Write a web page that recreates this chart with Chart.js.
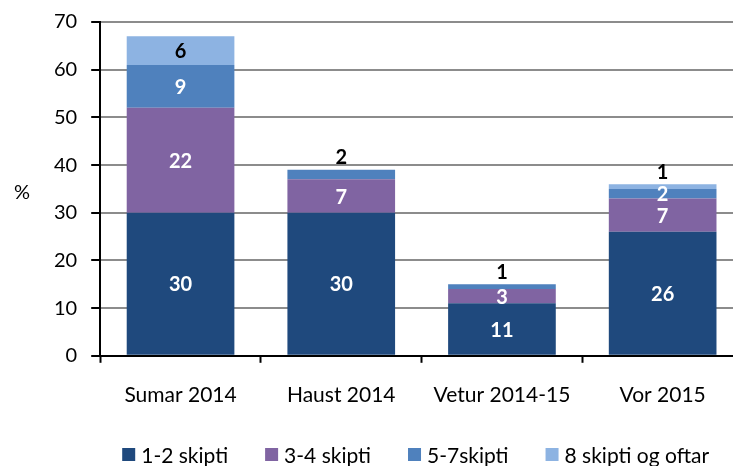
<!DOCTYPE html>
<html>
<head>
<meta charset="utf-8">
<script src="https://cdn.jsdelivr.net/npm/chart.js@4/dist/chart.umd.min.js"></script>
<style>
  html, body { margin: 0; padding: 0; background: #fff; overflow: hidden; }
  #wrap { width: 746px; height: 466px; }
</style>
</head>
<body>
<div id="wrap"><canvas id="chart" width="746" height="466"></canvas></div>
<script>
const seasons = ['Sumar 2014', 'Haust 2014', 'Vetur 2014-15', 'Vor 2015'];
const series_names = ['1-2 skipti', '3-4 skipti', '5-7skipti', '8 skipti og oftar'];
const trips_1_2 = [30, 30, 11, 26];
const trips_3_4 = [22, 7, 3, 7];
const trips_5_7 = [9, 2, 1, 2];
const trips_8_plus = [6, 0, 0, 1];
const y_ticks = [0, 10, 20, 30, 40, 50, 60, 70];

const colors = ['#1F497D', '#8064A2', '#4F81BD', '#8DB3E2'];
const FONT = 'Lato, "Open Sans", sans-serif';

Chart.defaults.font.family = FONT;
Chart.defaults.font.size = 20;
Chart.defaults.color = '#000';

const all_series = [trips_1_2, trips_3_4, trips_5_7, trips_8_plus];

// value labels inside the segments, small top ones go above the bar
const barLabels = {
  id: 'barLabels',
  afterDatasetsDraw(chart) {
    const ctx = chart.ctx;
    ctx.save();
    ctx.font = 'bold 20px ' + FONT;
    ctx.textAlign = 'center';
    chart.data.datasets.forEach((ds, i) => {
      const meta = chart.getDatasetMeta(i);
      meta.data.forEach((bar, j) => {
        const v = ds.data[j];
        if (!v) return;
        let isTop = true;
        for (let k = i + 1; k < all_series.length; k++) {
          if (all_series[k][j] > 0) isTop = false;
        }
        const above = isTop && v <= 2;
        ctx.fillStyle = (above || i === 3) ? '#000' : '#fff';
        if (above) {
          ctx.textBaseline = 'bottom';
          ctx.fillText(v, bar.x, bar.y - 2);
        } else {
          ctx.textBaseline = 'middle';
          ctx.fillText(v, bar.x, (bar.y + bar.base) / 2 + 1);
        }
      });
    });
    ctx.restore();
  }
};

// "%" axis title (horizontal) and a compact Excel-style legend row
const extras = {
  id: 'extras',
  afterDraw(chart) {
    const ctx = chart.ctx;
    const area = chart.chartArea;
    ctx.save();
    ctx.font = '20px ' + FONT;
    ctx.fillStyle = '#000';
    ctx.textAlign = 'center';
    ctx.textBaseline = 'middle';
    ctx.fillText('%', 22, (area.top + area.bottom) / 2 + 4);

    ctx.font = '21px ' + FONT;
    ctx.textAlign = 'left';
    let x = area.left + 22;
    const y = chart.height - 11;
    chart.data.datasets.forEach(ds => {
      ctx.fillStyle = ds.backgroundColor;
      ctx.fillRect(x, y - 7, 13, 13);
      x += 19;
      ctx.fillStyle = '#000';
      ctx.fillText(ds.label, x, y + 1);
      x += ctx.measureText(ds.label).width + 37;
    });
    ctx.restore();
  }
};

const data = {
  labels: seasons,
  datasets: all_series.map((vals, i) => ({
    label: series_names[i],
    data: vals,
    backgroundColor: colors[i],
    borderWidth: 0,
    barPercentage: 0.67,
    categoryPercentage: 1
  }))
};

const config = {
  type: 'bar',
  data: data,
  options: {
    responsive: false,
    animation: false,
    layout: { padding: { left: 40, right: 3, top: 4, bottom: 38 } },
    plugins: {
      legend: { display: false },
      tooltip: { enabled: false }
    },
    scales: {
      x: {
        stacked: true,
        grid: {
          offset: true,
          drawOnChartArea: false,
          drawTicks: true,
          tickLength: 7,
          tickColor: '#000',
          tickWidth: 2
        },
        border: { color: '#000', width: 2 },
        ticks: { padding: 20, color: '#000', font: { size: 21 } }
      },
      y: {
        stacked: true,
        min: 0,
        max: 70,
        afterBuildTicks(axis) {
          axis.ticks = y_ticks.map(v => ({ value: v }));
        },
        grid: {
          color: '#8C8C8C',
          lineWidth: 2,
          tickColor: '#000',
          tickLength: 9,
          tickWidth: 2
        },
        border: { color: '#000', width: 2 },
        ticks: { padding: 14, color: '#000', font: { size: 20, lineHeight: 0.8 } }
      }
    }
  },
  plugins: [barLabels, extras]
};

const chart = new Chart(document.getElementById('chart'), config);
</script>
</body>
</html>
